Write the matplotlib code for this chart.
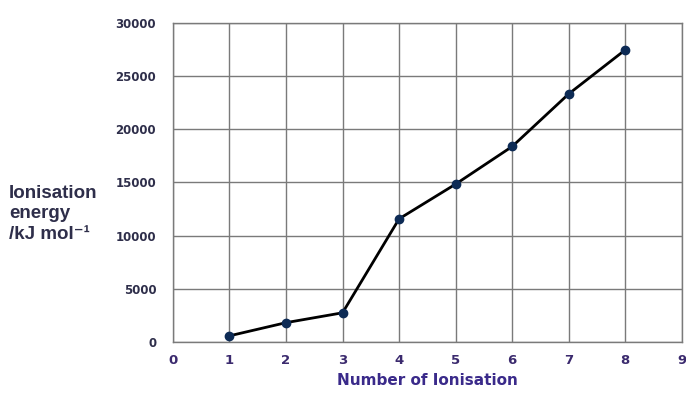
import matplotlib
matplotlib.use('Agg')
import matplotlib.pyplot as plt

# Successive ionisation energies
numero = [1, 2, 3, 4, 5, 6, 7, 8]
energia = [578, 1817, 2745, 11577, 14842, 18379, 23326, 27465]
x_ticks = [0, 1, 2, 3, 4, 5, 6, 7, 8, 9]
y_ticks = [0, 5000, 10000, 15000, 20000, 25000, 30000]

fig = plt.figure(figsize=(6.86, 3.94), dpi=100)
ax = fig.add_axes([0.252, 0.132, 0.742, 0.81])

ax.plot(numero, energia, color='black', linewidth=2, marker='o',
        markersize=6, markerfacecolor='#0d2b55', markeredgecolor='#0d2b55', zorder=3)

ax.set_xlim(0, 9)
ax.set_ylim(0, 30000)
ax.set_xticks(x_ticks)
ax.set_yticks(y_ticks)
ax.set_xticklabels([str(t) for t in x_ticks], fontsize=9.5, fontweight='bold', color='#3b2a6e')
ax.set_yticklabels([str(t) for t in y_ticks], fontsize=8.5, fontweight='bold', color='#2e2e4a')
ax.tick_params(length=0, pad=12)
ax.tick_params(axis='x', pad=9)

# Cuadricula
ax.grid(True, color='#7a7a7a', linewidth=1)
ax.set_axisbelow(True)
for s in ax.spines.values():
    s.set_color('#7a7a7a')
    s.set_linewidth(1)

ax.set_xlabel('Number of Ionisation', fontsize=11, fontweight='bold', color='#3a2a8a', labelpad=4)
fig.text(0.013, 0.457, 'Ionisation\nenergy\n/kJ mol\u207b\u00b9', fontsize=13.5, fontweight='bold',
         family=['Liberation Sans', 'DejaVu Sans'], color='#2e2e4a', ha='left', va='center',
         linespacing=1.3)

fig.savefig('out.png', dpi=100)
